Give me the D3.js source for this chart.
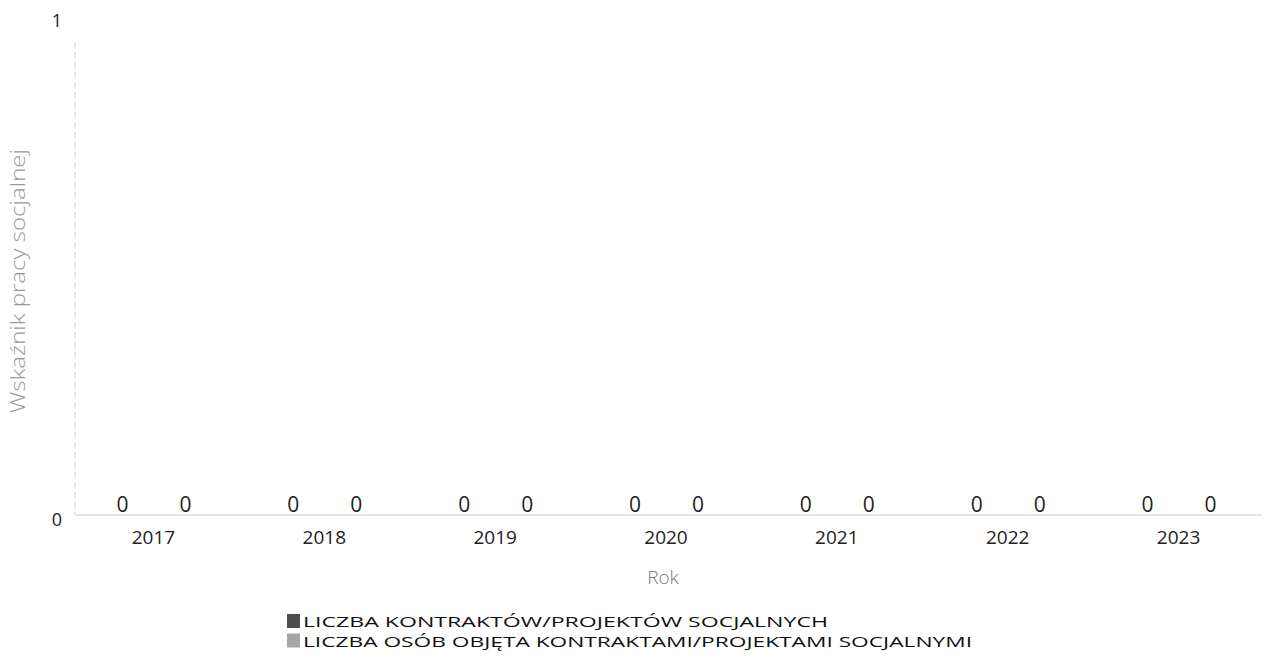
<!DOCTYPE html>
<html>
<head>
<meta charset="utf-8">
<script src="https://cdn.jsdelivr.net/npm/d3@7"></script>
<style>
  body { margin: 0; background: #fff; }
  text { font-family: "Open Sans", sans-serif; }
</style>
</head>
<body>
<script>
var years = ["2017", "2018", "2019", "2020", "2021", "2022", "2023"];
var kontrakty = [0, 0, 0, 0, 0, 0, 0];
var osoby = [0, 0, 0, 0, 0, 0, 0];
var seriesNames = ["LICZBA KONTRAKTÓW/PROJEKTÓW SOCJALNYCH", "LICZBA OSÓB OBJĘTA KONTRAKTAMI/PROJEKTAMI SOCJALNYMI"];
var yTicks = [0, 1];

var width = 1266, height = 662;
var margin = {top: 20, left: 75, right: 8, bottom: 147};

var svg = d3.select("body").append("svg")
    .attr("width", width)
    .attr("height", height);

var x = d3.scaleBand()
    .domain(years)
    .range([68, 1264])
    .paddingInner(0.1)
    .paddingOuter(0.05);

var x1 = d3.scaleBand()
    .domain([0, 1])
    .range([0, x.bandwidth()])
    .padding(0.1);

var y = d3.scaleLinear()
    .domain([0, 1])
    .range([height - margin.bottom, margin.top]);

var colors = ["#4d4d4d", "#a6a6a6"];

// y axis line (faint dashed, like the scan)
svg.append("line")
    .attr("x1", margin.left).attr("x2", margin.left)
    .attr("y1", 42).attr("y2", y(0))
    .attr("stroke", "#d4d4d4")
    .attr("stroke-dasharray", "7,3");

// baseline
svg.append("line")
    .attr("x1", margin.left).attr("x2", width - 4)
    .attr("y1", y(0)).attr("y2", y(0))
    .attr("stroke", "#cccccc");

// y tick labels
svg.selectAll(".ytick")
    .data(yTicks)
    .enter().append("text")
    .attr("x", 62)
    .attr("y", d => d === 0 ? y(d) + 11 : 27)
    .attr("text-anchor", "end")
    .attr("font-size", 18)
    .attr("fill", "#222")
    .text(d => d);

var data = years.map((yr, i) => ({year: yr, vals: [kontrakty[i], osoby[i]]}));

var groups = svg.selectAll(".grp")
    .data(data)
    .enter().append("g")
    .attr("transform", d => "translate(" + x(d.year) + ",0)");

groups.selectAll("rect")
    .data(d => d.vals)
    .enter().append("rect")
    .attr("x", (d, i) => x1(i))
    .attr("width", x1.bandwidth())
    .attr("y", d => y(d))
    .attr("height", d => y(0) - y(d))
    .attr("fill", (d, i) => colors[i]);

// value labels
groups.selectAll(".val")
    .data(d => d.vals)
    .enter().append("text")
    .attr("x", (d, i) => x.bandwidth() / 2 + (i === 0 ? -31 : 32))
    .attr("y", d => y(d) - 3)
    .attr("text-anchor", "middle")
    .attr("font-size", 21)
    .attr("fill", "#222")
    .text(d => d);

// x tick labels
svg.selectAll(".xtick")
    .data(years)
    .enter().append("text")
    .attr("x", d => x(d) + x.bandwidth() / 2)
    .attr("y", y(0) + 29)
    .attr("text-anchor", "middle")
    .attr("font-size", 19)
    .attr("fill", "#222")
    .text(d => d);

// axis titles
svg.append("text")
    .attr("x", 663)
    .attr("y", 584)
    .attr("text-anchor", "middle")
    .attr("font-size", 19)
    .attr("font-weight", 300)
    .attr("fill", "#777")
    .text("Rok");

svg.append("text")
    .attr("transform", "translate(25,281) rotate(-90)")
    .attr("text-anchor", "middle")
    .attr("font-size", 20)
    .attr("font-weight", 300)
    .attr("fill", "#999")
    .attr("textLength", 264)
    .attr("lengthAdjust", "spacingAndGlyphs")
    .text("Wskaźnik pracy socjalnej");

// legend
var legWidths = [525, 669];
var legend = svg.selectAll(".leg")
    .data(seriesNames)
    .enter().append("g")
    .attr("transform", (d, i) => "translate(287," + (614 + i * 19.5) + ")");

legend.append("rect")
    .attr("width", 13).attr("height", 14)
    .attr("fill", (d, i) => colors[i]);

legend.append("text")
    .attr("x", 16)
    .attr("y", 13)
    .attr("font-size", 14.5)
    .attr("fill", "#111")
    .attr("textLength", (d, i) => legWidths[i])
    .attr("lengthAdjust", "spacingAndGlyphs")
    .text(d => d);
</script>
</body>
</html>
